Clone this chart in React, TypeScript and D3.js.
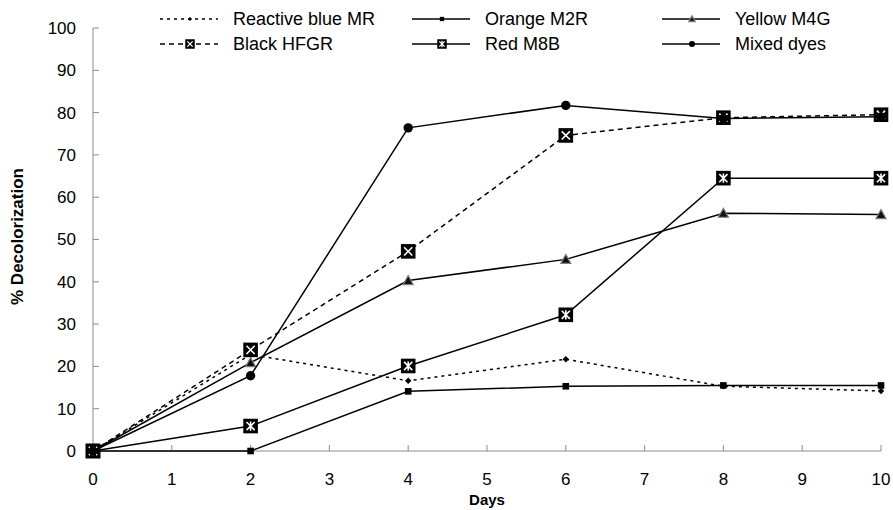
import React from 'react';
import * as d3 from 'd3';

const days = [0, 2, 4, 6, 8, 10];
const reactiveBlue = [0, 22.8, 16.6, 21.7, 15.3, 14.2];
const orangeM2R = [0, 0, 14.1, 15.3, 15.5, 15.5];
const yellowM4G = [0, 20.9, 40.3, 45.3, 56.2, 55.9];
const blackHFGR = [0, 23.9, 47.2, 74.6, 78.8, 79.5];
const redM8B = [0, 5.9, 20.1, 32.2, 64.5, 64.5];
const mixedDyes = [0, 17.8, 76.4, 81.7, 78.6, 79.0];

const xTicks = [0, 1, 2, 3, 4, 5, 6, 7, 8, 9, 10];
const yTicks = [0, 10, 20, 30, 40, 50, 60, 70, 80, 90, 100];

const series = [
  { name: 'Reactive blue MR', values: reactiveBlue, dash: '3,4', marker: 'diamond' },
  { name: 'Orange M2R', values: orangeM2R, dash: null, marker: 'square' },
  { name: 'Yellow M4G', values: yellowM4G, dash: null, marker: 'triangle' },
  { name: 'Black HFGR', values: blackHFGR, dash: '5,4', marker: 'boxX' },
  { name: 'Red M8B', values: redM8B, dash: null, marker: 'boxStar' },
  { name: 'Mixed dyes', values: mixedDyes, dash: null, marker: 'circle' },
];

const W = 893;
const H = 510;
const margin = { top: 28, right: 12, bottom: 59, left: 93 };
const font = 'Arial, "Liberation Sans", sans-serif';

// draws one marker centered on (cx, cy); k scales it down for the legend
const Marker = ({ type, cx, cy, k = 1 }) => {
  if (type === 'diamond') {
    const s = 3.2 * k;
    return <path d={`M${cx},${cy - s}L${cx + s},${cy}L${cx},${cy + s}L${cx - s},${cy}Z`} fill="#000" />;
  }
  if (type === 'square') {
    const s = 3.3 * k;
    return <rect x={cx - s} y={cy - s} width={2 * s} height={2 * s} fill="#000" />;
  }
  if (type === 'triangle') {
    const s = 5 * k;
    return (
      <path
        d={`M${cx},${cy - s}L${cx + s},${cy + s * 0.8}L${cx - s},${cy + s * 0.8}Z`}
        fill="#111"
        stroke="#808080"
        strokeWidth={1.2}
      />
    );
  }
  if (type === 'circle') {
    return <circle cx={cx} cy={cy} r={4.7 * k} fill="#000" />;
  }
  const s = 7.3 * k;
  const i = 3.2 * k;
  return (
    <g>
      <rect x={cx - s} y={cy - s} width={2 * s} height={2 * s} fill="#000" />
      <path
        d={`M${cx - s + i},${cy - s + i}L${cx + s - i},${cy + s - i}M${cx + s - i},${cy - s + i}L${cx - s + i},${cy + s - i}` +
          (type === 'boxStar' ? `M${cx},${cy - s + i - 0.5}L${cx},${cy + s - i + 0.5}` : '')}
        stroke="#fff"
        strokeWidth={1.6 * Math.max(k, 0.8)}
      />
    </g>
  );
};

export default function App() {
  const x = d3.scaleLinear().domain([0, 10]).range([margin.left, W - margin.right]);
  const y = d3.scaleLinear().domain([0, 100]).range([H - margin.bottom, margin.top]);
  const line = d3
    .line<number>()
    .x((_, i) => x(days[i]))
    .y((d) => y(d));

  const legendCols = [160, 412, 662];
  const legendRows = [19, 44];

  return (
    <svg width={W} height={H} style={{ position: 'absolute', left: 0, top: 0 }} fontFamily={font}>
      <rect width={W} height={H} fill="#fff" />

      {/* axes */}
      <line x1={x(0)} x2={x(0)} y1={y(0)} y2={y(100)} stroke="#8c8c8c" />
      <line x1={x(0)} x2={x(10)} y1={y(0)} y2={y(0)} stroke="#8c8c8c" />
      {yTicks.map((t) => (
        <g key={'y' + t}>
          <line x1={x(0)} x2={x(0) + 6} y1={y(t)} y2={y(t)} stroke="#8c8c8c" />
          <text x={76} y={y(t)} dy="0.35em" textAnchor="end" fontSize={17} fill="#000">
            {t}
          </text>
        </g>
      ))}
      {xTicks.map((t) => (
        <g key={'x' + t}>
          <line x1={x(t)} x2={x(t)} y1={y(0)} y2={y(0) - 6} stroke="#8c8c8c" />
          <text x={x(t)} y={485} textAnchor="middle" fontSize={17} fill="#000">
            {t}
          </text>
        </g>
      ))}
      <text x={(x(0) + x(10)) / 2} y={505} textAnchor="middle" fontSize={15} fontWeight="bold">
        Days
      </text>
      <text
        transform={`translate(23,${(y(0) + y(100)) / 2 - 3}) rotate(-90)`}
        textAnchor="middle"
        fontSize={17}
        fontWeight="bold"
      >
        % Decolorization
      </text>

      {/* series */}
      {series.map((s) => (
        <g key={s.name}>
          <path d={line(s.values) || ''} fill="none" stroke="#000" strokeWidth={1.5} strokeDasharray={s.dash || undefined} />
          {s.values.map((v, i) => (
            <Marker key={i} type={s.marker} cx={x(days[i])} cy={y(v)} />
          ))}
        </g>
      ))}

      {/* legend */}
      {series.map((s, i) => {
        const lx = legendCols[i % 3];
        const ly = legendRows[Math.floor(i / 3)];
        return (
          <g key={'leg' + s.name}>
            <line x1={lx} x2={lx + 58} y1={ly} y2={ly} stroke="#000" strokeWidth={1.5} strokeDasharray={s.dash || undefined} />
            <Marker type={s.marker} cx={lx + 30} cy={ly} k={0.65} />
            <text x={lx + 73} y={ly} dy="0.36em" fontSize={18} fill="#000">
              {s.name}
            </text>
          </g>
        );
      })}
    </svg>
  );
}
